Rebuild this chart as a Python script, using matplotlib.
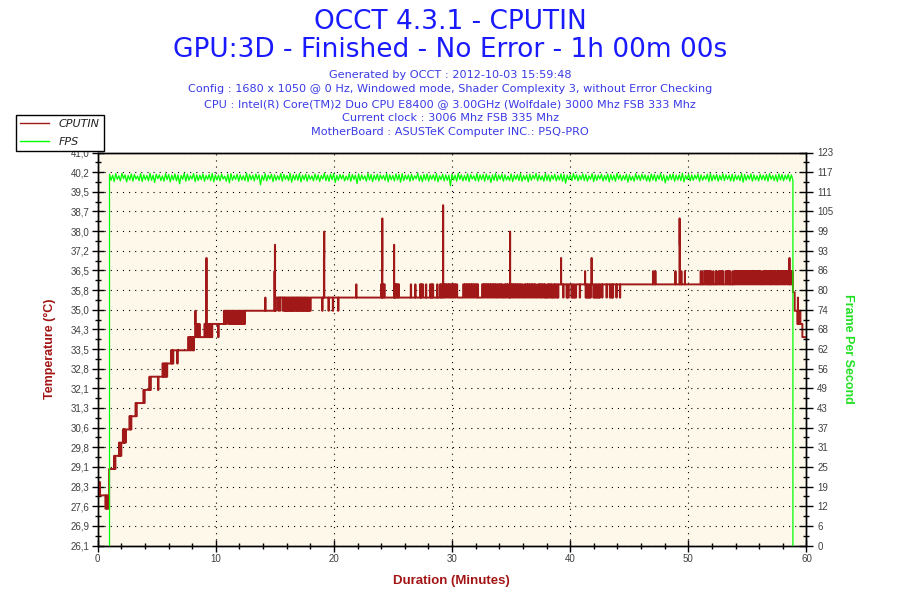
import numpy as np
import matplotlib
matplotlib.use("Agg")
from matplotlib import pyplot as plt
from matplotlib.lines import Line2D
from matplotlib.ticker import MultipleLocator, AutoMinorLocator

plt.rcParams['font.family'] = ['Liberation Sans', 'DejaVu Sans']

title_lines = ["OCCT 4.3.1 - CPUTIN", "GPU:3D - Finished - No Error - 1h 00m 00s"]
info_lines = [
    "Generated by OCCT : 2012-10-03 15:59:48",
    "Config : 1680 x 1050 @ 0 Hz, Windowed mode, Shader Complexity 3, without Error Checking",
    "CPU : Intel(R) Core(TM)2 Duo CPU E8400 @ 3.00GHz (Wolfdale) 3000 Mhz FSB 333 Mhz",
    "Current clock : 3006 Mhz FSB 335 Mhz",
    "MotherBoard : ASUSTeK Computer INC.: P5Q-PRO",
]

temp_tick_labels = ["26,1", "26,9", "27,6", "28,3", "29,1", "29,8", "30,6", "31,3", "32,1", "32,8",
                    "33,5", "34,3", "35,0", "35,8", "36,5", "37,2", "38,0", "38,7", "39,5", "40,2", "41,0"]
fps_tick_labels = ["0", "6", "12", "19", "25", "31", "37", "43", "49", "56", "62",
                   "68", "74", "80", "86", "93", "99", "105", "111", "117", "123"]

# CPUTIN base level (deg C), changes at these minutes
base_t = [0.0, 0.96, 1.6, 2.1, 2.45, 2.9, 3.38, 4.03, 4.6, 5.92, 6.4, 8.2, 9.78,
          10.63, 15.08, 39.1, 58.85, 58.99, 59.47, 59.64]
base_c = [28.0, 29.0, 29.5, 30.0, 30.5, 31.0, 31.5, 32.0, 32.5, 33.0, 33.5, 34.0, 34.5,
          35.0, 35.5, 36.0, 35.7, 35.0, 34.5, 34.0]

# short excursions from the base level: [start, end, value]
warmup_pulses = [
    [0.00, 0.04, 28.5], [0.08, 0.12, 28.5], [0.15, 0.19, 28.5],
    [0.64, 0.70, 27.5], [0.73, 0.80, 27.5], [0.83, 0.96, 27.5],
    [1.38, 1.45, 29.5], [1.50, 1.60, 29.5],
    [1.80, 1.83, 30.0], [1.90, 1.95, 30.0], [2.00, 2.10, 30.0],
    [2.12, 2.16, 30.5], [2.20, 2.25, 30.5], [2.28, 2.33, 30.5], [2.37, 2.45, 30.5],
    [2.68, 2.72, 31.0], [2.76, 2.80, 31.0], [2.84, 2.90, 31.0],
    [3.20, 3.25, 31.5], [3.30, 3.38, 31.5],
    [3.86, 3.92, 32.0], [3.96, 4.03, 32.0],
    [4.37, 4.40, 32.5], [4.50, 4.60, 32.5],
    [5.10, 5.14, 32.0],
    [5.47, 5.53, 33.0], [5.57, 5.63, 33.0], [5.67, 5.74, 33.0], [5.78, 5.85, 33.0], [5.88, 5.92, 33.0],
    [6.20, 6.25, 33.5], [6.30, 6.35, 33.5],
    [6.72, 6.76, 33.0],
    [7.65, 7.72, 34.0], [7.78, 7.85, 34.0], [7.90, 7.97, 34.0], [8.02, 8.10, 34.0], [8.14, 8.20, 34.0],
    [8.26, 8.30, 34.5], [8.45, 8.48, 34.5], [8.60, 8.63, 34.5],
    [9.02, 9.08, 34.5], [9.13, 9.18, 34.5], [9.24, 9.30, 34.5], [9.36, 9.42, 34.5],
    [9.47, 9.52, 34.5], [9.58, 9.64, 34.5], [9.70, 9.78, 34.5],
    [10.20, 10.23, 34.0],
    [10.63, 10.68, 34.5], [10.73, 10.79, 34.5], [10.84, 10.90, 34.5],
    [11.05, 11.12, 34.5], [11.17, 11.24, 34.5], [11.29, 11.36, 34.5], [11.41, 11.48, 34.5],
    [11.53, 11.60, 34.5], [11.65, 11.72, 34.5], [11.77, 11.84, 34.5], [11.89, 11.96, 34.5],
    [12.01, 12.08, 34.5], [12.13, 12.20, 34.5], [12.27, 12.33, 34.5], [12.39, 12.46, 34.5],
]

middle_pulses = [
    [15.28, 15.31, 35.0], [15.42, 15.45, 35.0], [15.65, 15.68, 35.0], [15.79, 15.82, 35.0],
    [15.86, 15.92, 35.0], [15.97, 16.04, 35.0], [16.09, 16.15, 35.0], [16.21, 16.27, 35.0],
    [16.33, 16.40, 35.0], [16.45, 16.51, 35.0], [16.57, 16.63, 35.0], [16.69, 16.76, 35.0],
    [16.82, 16.88, 35.0], [16.94, 17.00, 35.0], [17.06, 17.12, 35.0], [17.18, 17.25, 35.0],
    [17.31, 17.37, 35.0], [17.43, 17.50, 35.0], [17.56, 17.62, 35.0], [17.68, 17.74, 35.0],
    [17.80, 17.87, 35.0], [17.92, 18.02, 35.0],
    [19.00, 19.03, 35.0], [19.53, 19.56, 35.0], [19.90, 19.93, 35.0], [20.35, 20.38, 35.0],
    [23.97, 24.02, 36.0], [24.12, 24.18, 36.0], [24.22, 24.30, 36.0],
    [25.12, 25.17, 36.0], [25.22, 25.28, 36.0], [25.33, 25.40, 36.0], [25.44, 25.50, 36.0],
    [26.50, 26.53, 36.0], [26.87, 26.90, 36.0], [27.27, 27.31, 36.0], [27.36, 27.40, 36.0],
    [27.45, 27.55, 36.0], [27.78, 27.81, 36.0], [28.12, 28.18, 36.0], [28.24, 28.30, 36.0],
    [28.34, 28.40, 36.0], [28.73, 28.76, 36.0], [28.96, 29.02, 36.0], [29.08, 29.14, 36.0],
    [29.18, 29.24, 36.0],
]

plateau_pulses = [
    [29.26, 29.36, 36.0], [29.40, 29.50, 36.0], [29.55, 29.66, 36.0], [29.70, 29.80, 36.0],
    [29.85, 29.95, 36.0], [30.00, 30.10, 36.0], [30.14, 30.24, 36.0], [30.30, 30.42, 36.0],
    [30.92, 31.02, 36.0], [31.06, 31.16, 36.0], [31.21, 31.32, 36.0], [31.36, 31.46, 36.0],
    [31.51, 31.62, 36.0], [31.66, 31.76, 36.0], [31.81, 31.92, 36.0], [31.97, 32.08, 36.0],
    [32.12, 32.20, 36.0], [32.52, 32.62, 36.0], [32.66, 32.77, 36.0], [32.81, 32.92, 36.0],
    [32.96, 33.06, 36.0], [33.11, 33.22, 36.0], [33.26, 33.36, 36.0], [33.41, 33.52, 36.0],
    [33.56, 33.66, 36.0], [33.71, 33.80, 36.0], [33.86, 33.96, 36.0], [34.01, 34.12, 36.0],
    [34.16, 34.26, 36.0], [34.40, 34.50, 36.0], [34.55, 34.66, 36.0], [34.70, 34.80, 36.0],
    [34.95, 35.06, 36.0], [35.10, 35.20, 36.0], [35.25, 35.36, 36.0], [35.40, 35.50, 36.0],
    [35.55, 35.64, 36.0], [35.70, 35.80, 36.0], [35.85, 35.96, 36.0], [36.10, 36.20, 36.0],
    [36.25, 36.36, 36.0], [36.40, 36.50, 36.0], [36.55, 36.66, 36.0], [36.70, 36.80, 36.0],
    [36.85, 36.96, 36.0], [37.00, 37.10, 36.0], [37.25, 37.36, 36.0], [37.40, 37.50, 36.0],
    [37.55, 37.64, 36.0], [37.70, 37.80, 36.0], [37.85, 37.90, 36.0], [38.05, 38.10, 36.0],
    [38.15, 38.26, 36.0], [38.30, 38.38, 36.0], [38.45, 38.50, 36.0], [38.60, 38.66, 36.0],
    [38.70, 38.80, 36.0], [38.88, 38.92, 36.0], [39.00, 39.10, 36.0],
    [39.40, 39.43, 35.5], [39.68, 39.75, 35.5], [39.80, 39.87, 35.5], [40.10, 40.18, 35.5],
    [40.24, 40.32, 35.5], [40.38, 40.50, 35.5], [40.80, 40.83, 35.5], [41.30, 41.38, 35.5],
    [41.43, 41.50, 35.5], [41.55, 41.62, 35.5], [41.67, 41.75, 35.5], [41.95, 42.03, 35.5],
    [42.08, 42.16, 35.5], [42.21, 42.30, 35.5], [42.35, 42.42, 35.5], [42.46, 42.52, 35.5],
    [42.70, 42.73, 35.5], [43.06, 43.09, 35.5], [43.34, 43.40, 35.5], [43.48, 43.55, 35.5],
    [43.60, 43.63, 35.5], [43.90, 43.93, 35.5], [44.20, 44.23, 35.5],
]

late_pulses = [
    [51.03, 51.06, 36.5], [51.17, 51.20, 36.5], [51.40, 51.46, 36.5], [51.52, 51.58, 36.5],
    [51.64, 51.70, 36.5], [51.74, 51.77, 36.5], [51.90, 51.93, 36.5], [52.10, 52.13, 36.5],
    [52.33, 52.36, 36.5], [52.53, 52.60, 36.5], [52.66, 52.72, 36.5], [52.80, 52.86, 36.5],
    [52.90, 52.95, 36.5], [53.15, 53.22, 36.5], [53.28, 53.34, 36.5], [53.40, 53.46, 36.5],
    [53.49, 53.52, 36.5], [53.72, 53.75, 36.5], [53.86, 53.92, 36.5], [53.97, 54.06, 36.5],
    [54.10, 54.20, 36.5], [54.24, 54.34, 36.5], [54.38, 54.48, 36.5], [54.52, 54.62, 36.5],
    [54.66, 54.76, 36.5], [54.80, 54.90, 36.5], [54.94, 55.04, 36.5], [55.08, 55.18, 36.5],
    [55.22, 55.32, 36.5], [55.36, 55.46, 36.5], [55.50, 55.60, 36.5], [55.64, 55.74, 36.5],
    [55.78, 55.88, 36.5], [55.92, 56.02, 36.5], [56.06, 56.14, 36.5], [56.28, 56.38, 36.5],
    [56.42, 56.52, 36.5], [56.56, 56.66, 36.5], [56.70, 56.80, 36.5], [56.84, 56.94, 36.5],
    [56.98, 57.02, 36.5], [57.10, 57.20, 36.5], [57.24, 57.34, 36.5], [57.38, 57.44, 36.5],
    [57.56, 57.66, 36.5], [57.70, 57.80, 36.5], [57.84, 57.94, 36.5], [57.98, 58.08, 36.5],
    [58.12, 58.22, 36.5], [58.26, 58.36, 36.5], [58.40, 58.50, 36.5], [58.58, 58.68, 36.5],
    [58.72, 58.85, 36.5],
    [59.22, 59.26, 34.5], [59.30, 59.34, 34.5], [59.38, 59.42, 34.5],
]

# one-sample spikes: [minute, value]
temp_spikes = [
    [8.27, 35.0], [9.20, 37.0], [14.18, 35.5], [14.97, 36.5], [15.00, 37.5],
    [19.15, 37.0], [19.17, 38.0], [21.88, 36.0], [24.06, 36.5], [24.08, 38.5],
    [25.09, 37.5], [29.24, 39.0], [34.90, 38.0], [39.22, 37.0], [41.25, 36.5],
    [41.80, 37.0], [47.00, 36.5], [47.20, 36.5], [48.90, 36.5], [49.25, 38.5],
    [49.27, 37.5], [49.40, 36.5], [49.70, 36.5], [58.55, 37.0], [59.27, 35.5],
]

# FPS between the start and the end of the 3D load
fps_start, fps_end = 1.0, 58.85
fps_values = [
    116.2, 114.3, 115.9, 113.9, 116.4, 114.6, 115.7, 114.1, 116.5, 114.8, 116.0, 113.8, 115.8, 114.4, 116.3, 114.0, 116.1, 114.7, 115.6, 114.2,
    116.4, 113.9, 116.0, 114.5, 115.8, 114.1, 116.5, 114.3, 115.9, 113.6, 116.2, 114.8, 116.0, 114.2, 115.7, 114.0, 116.4, 114.5, 116.1, 113.8,
    115.9, 114.4, 116.3, 114.1, 116.0, 113.2, 115.8, 114.6, 116.5, 114.0, 116.2, 114.3, 115.7, 114.7, 116.4, 113.9, 116.0, 114.2, 115.9, 114.5,
    116.3, 114.0, 115.8, 114.6, 116.1, 114.2, 116.5, 113.8, 116.0, 114.4, 115.9, 114.1, 116.3, 114.7, 115.6, 114.0, 116.2, 113.5, 116.4, 114.3,
    115.8, 114.6, 116.2, 114.0, 116.0, 114.4, 115.7, 114.2, 116.5, 113.9, 116.1, 114.5, 115.9, 114.1, 116.3, 114.6, 116.0, 112.9, 115.8, 114.3,
    116.4, 114.1, 115.9, 114.7, 116.2, 113.9, 116.0, 114.3, 115.7, 114.5, 116.4, 114.0, 116.1, 114.6, 115.8, 114.2, 116.5, 113.7, 116.0, 114.4,
    116.1, 114.3, 116.4, 113.8, 115.9, 114.5, 116.2, 114.0, 116.0, 114.6, 115.7, 114.1, 116.3, 114.4, 116.0, 113.9, 115.8, 114.7, 116.5, 114.2,
    115.9, 114.0, 116.2, 114.5, 116.4, 113.6, 115.8, 114.3, 116.1, 114.7, 116.0, 114.1, 115.6, 114.4, 116.3, 114.0, 116.1, 114.6, 115.9, 113.3,
    116.3, 114.2, 116.0, 114.6, 115.7, 114.0, 116.5, 114.4, 116.1, 113.9, 115.9, 114.5, 116.2, 114.1, 116.0, 114.7, 115.8, 114.3, 116.4, 113.8,
    116.0, 114.5, 115.8, 114.1, 116.3, 114.4, 116.1, 113.7, 116.4, 114.2, 115.9, 114.6, 116.0, 114.0, 116.2, 114.3, 115.7, 114.8, 116.5, 114.1,
    115.8, 113.9, 116.1, 114.4, 116.3, 114.0, 115.9, 114.6, 116.0, 114.2, 116.4, 113.8, 115.7, 114.5, 116.2, 114.1, 116.0, 114.3, 115.9, 112.6,
    116.2, 114.4, 115.9, 114.0, 116.5, 114.6, 116.0, 114.1, 115.8, 114.3, 116.3, 113.9, 116.1, 114.7, 115.7, 114.2, 116.4, 114.0, 116.0, 114.5,
    116.1, 114.0, 116.3, 114.5, 115.8, 113.6, 116.0, 114.3, 116.4, 114.1, 115.9, 114.6, 116.2, 114.0, 116.0, 114.4, 115.6, 114.2, 116.3, 113.9,
    115.9, 114.6, 116.1, 114.2, 116.4, 114.0, 115.8, 114.5, 116.0, 113.8, 116.2, 114.3, 115.9, 114.7, 116.5, 114.1, 116.0, 114.4, 115.7, 114.0,
    116.4, 114.3, 116.0, 113.9, 115.9, 114.6, 116.2, 114.1, 115.8, 114.4, 116.3, 114.0, 116.1, 113.4, 115.9, 114.5, 116.0, 114.2, 116.4, 114.6,
    116.0, 114.1, 115.8, 114.5, 116.3, 114.2, 116.1, 114.0, 115.7, 114.6, 116.4, 113.9, 116.0, 114.3, 115.9, 114.7, 116.2, 114.1, 115.8, 114.4,
    116.3, 113.8, 116.1, 114.4, 115.9, 114.0, 116.5, 114.6, 116.0, 114.2, 115.8, 114.5, 116.2, 113.7, 116.0, 114.3, 115.6, 114.0, 116.4, 114.5,
    115.9, 114.2, 116.2, 114.6, 116.0, 114.1, 115.8, 113.9, 116.3, 114.4, 116.1, 114.0, 115.9, 114.6, 116.4, 114.2, 116.0, 113.5, 115.7, 114.3,
    116.1, 114.5, 116.3, 114.0, 115.9, 114.4, 116.0, 114.2, 116.5, 113.8, 115.8, 114.6, 116.2, 114.1, 116.0, 114.3, 115.9, 114.7, 116.3, 114.0,
    116.0, 114.3, 115.7, 114.6, 116.2, 113.9, 116.4, 114.1, 115.9, 114.5, 116.1, 114.0, 115.8, 114.4, 116.3, 114.2, 116.0, 114.6, 115.9, 114.1,
    116.2, 114.0, 116.0, 114.5, 115.8, 114.2, 116.4, 113.7, 116.1, 114.3, 115.9, 114.6, 116.3, 114.0, 116.0, 114.4, 115.7, 114.1, 116.2, 114.5,
    115.9, 114.3, 116.1, 114.0, 116.4, 114.6, 115.8, 114.2, 116.0, 113.9, 116.3, 114.4, 116.1, 114.1, 115.9, 114.6, 116.2, 114.0, 116.0, 114.4,
]

sample_min = 1.0 / 60.0
t = np.arange(3600) * sample_min
temp = np.asarray(base_c)[np.searchsorted(base_t, t + 1e-9, side='right') - 1]
for start, end, value in warmup_pulses + middle_pulses + plateau_pulses + late_pulses:
    temp[(t >= start - 1e-9) & (t < end - 1e-9)] = value
for minute, value in temp_spikes:
    temp[int(round(minute / sample_min))] = value

fps_t = np.concatenate([[fps_start], np.linspace(fps_start, fps_end, len(fps_values)), [fps_end]])
fps = np.concatenate([[0], fps_values, [0]])

red = '#a01818'
green = '#00ff00'

fig = plt.figure(figsize=(9, 6), dpi=100)
ax = fig.add_axes([97.7 / 900, 1 - 545.5 / 600, (806.5 - 97.7) / 900, (545.5 - 152.5) / 600])
ax.set_facecolor('#fdf8ea')
ax2 = ax.twinx()

ax.plot(t, temp, color=red, linewidth=1.4, drawstyle='steps-post', zorder=3)
ax2.plot(fps_t, fps, color=green, linewidth=0.9, zorder=3)

ax.set_xlim(0, 60)
ax.set_ylim(26.1, 41.0)
ax2.set_ylim(0, 123)

ax.set_yticks(np.linspace(26.1, 41.0, len(temp_tick_labels)))
ax.set_yticklabels(temp_tick_labels)
ax2.set_yticks(np.linspace(0, 123, len(fps_tick_labels)))
ax2.set_yticklabels(fps_tick_labels)
ax.xaxis.set_major_locator(MultipleLocator(10))
ax.xaxis.set_minor_locator(MultipleLocator(2))
ax.yaxis.set_minor_locator(AutoMinorLocator(2))
ax2.yaxis.set_minor_locator(AutoMinorLocator(2))

for a in (ax, ax2):
    a.tick_params(which='major', direction='inout', length=8, width=1, labelsize=7,
                  labelcolor='#404040', pad=2)
    a.tick_params(which='minor', direction='inout', length=4.5, width=1)
    for s in a.spines.values():
        s.set_linewidth(1)
ax.tick_params(right=False, which='both')
ax2.tick_params(which='major', length=9.5, pad=3)

ax.set_axisbelow(True)
ax.grid(True, which='major', color='black', linestyle=(0, (1, 4.5)), linewidth=0.8)

fig.text(0.5, 1 - 22 / 600, title_lines[0], ha='center', va='center', fontsize=19,
         color='#1a1aff', family='DejaVu Sans')
fig.text(0.5, 1 - 50 / 600, title_lines[1], ha='center', va='center', fontsize=19,
         color='#1a1aff', family='DejaVu Sans')
for i, line in enumerate(info_lines):
    fig.text(0.5, 1 - (75 + i * 14.3) / 600, line, ha='center', va='center', fontsize=8.1,
             color='#3a3ae6', family='DejaVu Sans')

fig.text(50 / 900, 1 - 349 / 600, 'Temperature (°C)', rotation=90, ha='center', va='center',
         fontsize=9, fontweight='bold', color='#a31515')
fig.text(451 / 900, 1 - 581 / 600, 'Duration (Minutes)', ha='center', va='center',
         fontsize=9.5, fontweight='bold', color='#a31515')
fig.text(848 / 900, 1 - 349 / 600, 'Frame Per Second', rotation=270, ha='center', va='center',
         fontsize=9, fontweight='bold', color='#22e022')

handles = [Line2D([], [], color=red, linewidth=1), Line2D([], [], color=green, linewidth=1)]
leg = fig.legend(handles, ['CPUTIN', 'FPS'], loc='upper left',
                 bbox_to_anchor=(16 / 900, 1 - 115 / 600), frameon=True, fancybox=False,
                 edgecolor='black', framealpha=1, borderaxespad=0, borderpad=0.35,
                 handlelength=2.6, handletextpad=0.9, labelspacing=0.75,
                 prop={'family': 'DejaVu Sans', 'style': 'italic', 'size': 8})
leg.get_frame().set_linewidth(1)
for txt in leg.get_texts():
    txt.set_color('#222222')

fig.savefig('out.png', dpi=100)
